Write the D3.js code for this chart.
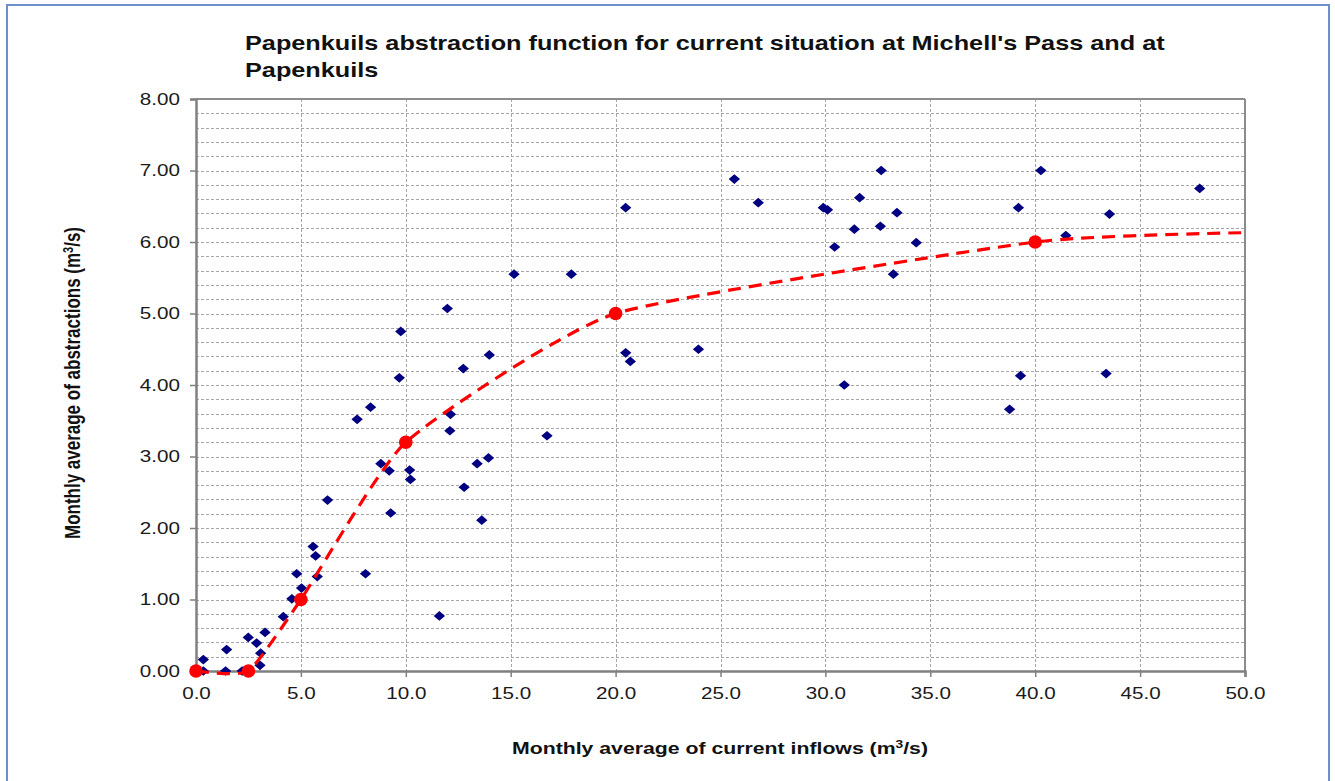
<!DOCTYPE html>
<html>
<head>
<meta charset="utf-8">
<script src="https://cdn.jsdelivr.net/npm/d3@7"></script>
<style>
  html, body { margin: 0; padding: 0; background: #fff; }
  svg { display: block; font-family: "Liberation Sans", Arial, sans-serif; }
</style>
</head>
<body>
<svg id="chart" width="1335" height="781"></svg>
<script>
// ---- Data ----
const titleLines = ["Papenkuils abstraction function for current situation at Michell's Pass and at", "Papenkuils"];
const xTicks = [0, 5, 10, 15, 20, 25, 30, 35, 40, 45, 50];
const yTicks = [0, 1, 2, 3, 4, 5, 6, 7, 8];

// Observed monthly averages (scatter)
const inflowX = [0.00, 0.15, 0.35, 1.41, 2.20, 2.47,
  0.35, 1.46, 2.49, 2.89, 3.29, 3.08, 3.05,
  4.16, 4.57, 4.80, 5.03, 5.58, 5.70, 5.78, 6.27, 8.08, 11.60,
  9.28, 8.81, 9.21, 10.18, 10.22, 12.78, 13.62, 13.40, 13.94, 16.73,
  12.10, 12.13, 7.68, 8.32, 9.69, 9.76, 11.98, 12.74, 13.98,
  15.16, 17.89, 20.48, 20.48, 20.70, 23.95,
  25.66, 26.80, 29.90, 30.10, 30.44, 30.90, 31.38, 31.63, 32.62, 32.66, 33.24, 33.41, 34.33,
  38.78, 39.30, 39.20, 40.27, 41.46, 43.38, 43.54, 47.84];
const abstractionY = [0.00, 0.00, 0.00, 0.00, 0.00, 0.00,
  0.16, 0.30, 0.47, 0.39, 0.54, 0.25, 0.08,
  0.76, 1.01, 1.36, 1.16, 1.74, 1.61, 1.32, 2.39, 1.36, 0.77,
  2.21, 2.90, 2.80, 2.81, 2.68, 2.57, 2.11, 2.90, 2.98, 3.29,
  3.36, 3.59, 3.52, 3.69, 4.10, 4.75, 5.07, 4.23, 4.42,
  5.55, 5.55, 6.48, 4.45, 4.33, 4.50,
  6.88, 6.55, 6.48, 6.45, 5.93, 4.00, 6.18, 6.62, 6.22, 7.00, 5.55, 6.41, 5.99,
  3.66, 4.13, 6.48, 7.00, 6.09, 4.16, 6.39, 6.75];

// Abstraction function (red dashed line)
const funcX = [0, 2.5, 5, 10, 20, 40, 50];
const funcY = [0, 0, 1, 3.2, 5, 6, 6.13];
const funcMarkerCount = 6; // markers drawn on the first 6 points

// ---- Layout ----
const svg = d3.select("#chart");
const W = 1335, H = 781;
const plot = { left: 196, right: 1245, top: 99, bottom: 671 };
const STRETCH = 1.25; // horizontal text widening seen in the reference

function stretch(sel, f) {
  sel.each(function () {
    const len = this.getComputedTextLength();
    d3.select(this).attr("textLength", len * f).attr("lengthAdjust", "spacingAndGlyphs");
  });
}

const x = d3.scaleLinear().domain([0, 50]).range([plot.left, plot.right]);
const y = d3.scaleLinear().domain([0, 8]).range([plot.bottom, plot.top]);

// Outer frame
svg.append("rect").attr("x", 0).attr("y", 0).attr("width", W).attr("height", H).attr("fill", "#fff");
svg.append("rect").attr("x", 7).attr("y", 5).attr("width", 1322).attr("height", 800)
  .attr("fill", "none").attr("stroke", "#6d8fcb").attr("stroke-width", 2);

// Horizontal gridlines every 0.2
const hGrid = d3.range(1, 40).map(i => i * 0.2);
svg.append("g").selectAll("line").data(hGrid).join("line")
  .attr("x1", plot.left).attr("x2", plot.right)
  .attr("y1", d => Math.round(y(d)) + 0.5).attr("y2", d => Math.round(y(d)) + 0.5)
  .attr("stroke", "#a6a6a6").attr("stroke-width", 1.2).attr("stroke-dasharray", "3,2");

// Vertical gridlines every 5
svg.append("g").selectAll("line").data(xTicks.slice(1, -1)).join("line")
  .attr("x1", d => Math.round(x(d)) + 0.5).attr("x2", d => Math.round(x(d)) + 0.5)
  .attr("y1", plot.top).attr("y2", plot.bottom)
  .attr("stroke", "#a6a6a6").attr("stroke-width", 1).attr("stroke-dasharray", "3,2");

// Plot border (top/right)
svg.append("line").attr("x1", plot.left).attr("x2", plot.right).attr("y1", plot.top).attr("y2", plot.top)
  .attr("stroke", "#8c8c8c").attr("stroke-width", 2);
svg.append("line").attr("x1", plot.right).attr("x2", plot.right).attr("y1", plot.top).attr("y2", plot.bottom)
  .attr("stroke", "#8c8c8c").attr("stroke-width", 2);

// Axes
const yAxis = d3.axisLeft(y).tickValues(yTicks).tickFormat(d3.format(".2f")).tickSize(6).tickPadding(10);
const gy = svg.append("g").attr("transform", `translate(${plot.left},0)`).call(yAxis);
const xAxis = d3.axisBottom(x).tickValues(xTicks).tickFormat(d3.format(".1f")).tickSize(6).tickPadding(10);
const gx = svg.append("g").attr("transform", `translate(0,${plot.bottom})`).call(xAxis);
[gx, gy].forEach(g => {
  g.select(".domain").attr("stroke", "#808080").attr("stroke-width", 2.5);
  g.selectAll(".tick line").attr("stroke", "#808080").attr("stroke-width", 1.5);
  g.selectAll(".tick text").attr("fill", "#1a1a1a").style("font-size", "16.5px")
    .style("font-family", "'Liberation Sans', Arial, sans-serif");
  stretch(g.selectAll(".tick text"), STRETCH);
});

// Scatter diamonds
const diamond = d3.symbol().type(d3.symbolDiamond2).size(74);
svg.append("g").selectAll("path").data(inflowX.map((v, i) => [v, abstractionY[i]])).join("path")
  .attr("d", diamond)
  .attr("transform", d => `translate(${x(d[0])},${y(d[1])}) scale(1.05,0.9)`)
  .attr("fill", "#000080");

// Function line (smoothed, dashed red)
const funcPts = funcX.map((v, i) => [v, funcY[i]]);
const clipId = "plotclip";
svg.append("clipPath").attr("id", clipId).append("rect")
  .attr("x", plot.left - 10).attr("y", plot.top).attr("width", plot.right - plot.left + 10).attr("height", plot.bottom - plot.top + 10);
svg.append("path").datum(funcPts)
  .attr("clip-path", `url(#${clipId})`)
  .attr("d", d3.line().x(d => x(d[0])).y(d => y(d[1])).curve(d3.curveCardinal.tension(0.5)))
  .attr("fill", "none").attr("stroke", "#ff0000").attr("stroke-width", 3.2)
  .attr("stroke-dasharray", "13,8");

svg.append("g").selectAll("circle").data(funcPts.slice(0, funcMarkerCount)).join("circle")
  .attr("cx", d => x(d[0])).attr("cy", d => y(d[1])).attr("r", 6.8)
  .attr("fill", "#ff0000");

// Title
const titles = svg.append("g").selectAll("text").data(titleLines).join("text")
  .attr("x", 245).attr("y", (d, i) => 50 + i * 26.5)
  .attr("font-size", "20.5px").attr("font-weight", "bold").attr("fill", "#111")
  .text(d => d);
stretch(titles, 1.232);

// X axis title
const xt = svg.append("text").attr("x", 720).attr("y", 754).attr("text-anchor", "middle")
  .attr("font-size", "17px").attr("font-weight", "bold").attr("fill", "#111")
  .attr("transform", `translate(720,0) scale(${STRETCH},1) translate(-720,0)`);
xt.append("tspan").text("Monthly average of current inflows (m");
xt.append("tspan").attr("dy", -6).attr("font-size", "11px").text("3");
xt.append("tspan").attr("dy", 6).text("/s)");

// Y axis title
const yt = svg.append("text").attr("transform", `translate(80,383) scale(${STRETCH},1) rotate(-90)`).attr("text-anchor", "middle")
  .attr("font-size", "17px").attr("font-weight", "bold").attr("fill", "#111");
yt.append("tspan").text("Monthly average of abstractions (m");
yt.append("tspan").attr("dy", -6).attr("font-size", "11px").text("3");
yt.append("tspan").attr("dy", 6).text("/s)");
</script>
</body>
</html>
